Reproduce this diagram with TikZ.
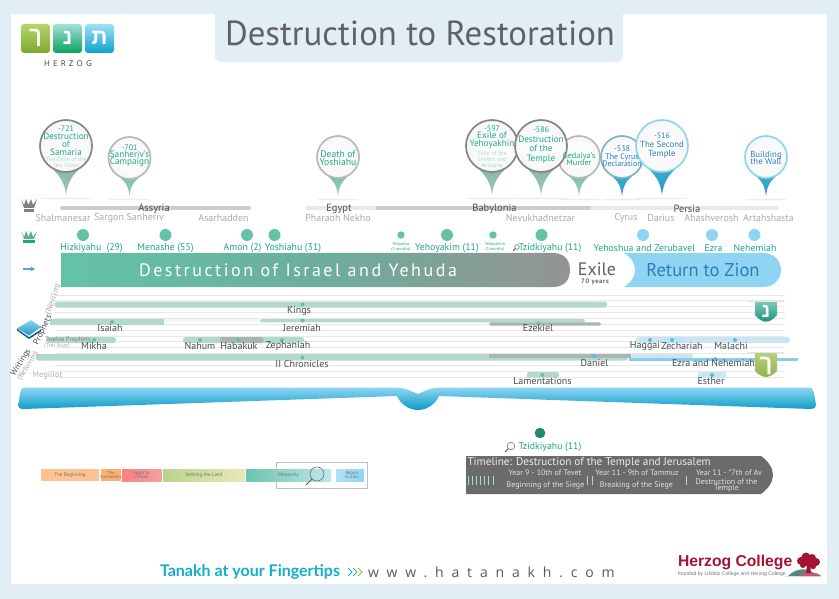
\documentclass[tikz,border=0pt]{standalone}
\usepackage{fontspec}
\setmainfont{PT Sans}
\newfontfamily\hebfont[Script=Hebrew]{Liberation Sans}
\newfontfamily\spacedfont[LetterSpace=14]{PT Sans}
\newfontfamily\yearsfont[LetterSpace=10]{PT Sans}
\newfontfamily\wideurl[LetterSpace=56]{Open Sans}
\newfontfamily\logoword[LetterSpace=40]{Open Sans}
\newfontfamily\sloganfont{Lato}
\newfontfamily\collegefont{Liberation Sans}
\newcommand{\fsz}[1]{\fontsize{#1}{#1}\selectfont}
\usetikzlibrary{arrows.meta}
\definecolor{pagebg}{HTML}{E2EEF6}
\definecolor{teal}{HTML}{1FA58A}
\definecolor{tealpale}{HTML}{A5DFCD}
\definecolor{sea}{HTML}{64C2A8}
\definecolor{sky}{HTML}{8FD5F3}
\definecolor{inkblue}{HTML}{2B7FB8}
\definecolor{rulergray}{HTML}{A9ABAD}
\definecolor{booklabel}{HTML}{4A4D4F}
\definecolor{barsea}{HTML}{B2D9CB}
\definecolor{bargray}{HTML}{A8B5B0}
\definecolor{barsky}{HTML}{CDE5F3}
\definecolor{dotsky}{HTML}{5DB8E5}
\definecolor{crimson}{HTML}{A2142F}
\definecolor{tailsea}{HTML}{78BDA5}
\definecolor{tailseafade}{HTML}{9AD0BC}
\definecolor{tailsage}{HTML}{85B5A3}
\definecolor{tailsagefade}{HTML}{A0C8B8}
\definecolor{tailblue}{HTML}{4AAACD}
\definecolor{tailbluedeep}{HTML}{1F9AC6}
\definecolor{oceanedge}{HTML}{0A9BC4}
\definecolor{tabolive}{HTML}{8FB550}
\definecolor{tabolivetop}{HTML}{B8D078}
\definecolor{slogan}{HTML}{12AFC9}
\tikzset{
  x=1pt,y=-1pt,
  txt/.style={inner sep=0pt,outer sep=0pt,align=center},
  rulername/.style={txt,text=rulergray,font=\fsz{10}},
  empire/.style={txt,text=booklabel,font=\fsz{10.5}},
  kingname/.style={txt,text=teal,font=\fsz{9.8}},
  tinyking/.style={txt,text=teal,font=\fsz{4.2}},
  bookname/.style={txt,text=booklabel,font=\fsz{10}},
  pintext/.style={txt,text=teal,font=\fsz{9.2}},
  pinblue/.style={txt,text=inkblue,font=\fsz{8.8}},
  pinnote/.style={txt,text=tealpale,font=\fsz{6}},
  graylabel/.style={txt,text=rulergray,font=\fsz{6.5}},
  sidelabel/.style={txt,text=booklabel,font=\fsz{8.5}},
  minitext/.style={txt,text=booklabel!80,font=\fsz{5}},
  sieget/.style={txt,text=white!88!black,font=\fsz{8}},
  timebar/.style={line width=4pt,line cap=round},
}
% map pin: name, x, circle y, radius, tip y, ring colour, tail colour, tail fade colour
\newcommand{\mappin}[8]{%
  \fill[black!22,opacity=.3] (#2,#5+3.5) ellipse[x radius=#4*1.0,y radius=1];
  \shade[top color=#7,bottom color=#8]
    (#2-0.68*#4,#3+0.72*#4) .. controls (#2-0.2*#4,#3+1.15*#4) and (#2-1.5,#5-12) .. (#2,#5)
    .. controls (#2+1.5,#5-12) and (#2+0.2*#4,#3+1.15*#4) .. (#2+0.68*#4,#3+0.72*#4) -- cycle;
  \shadedraw[inner color=white,outer color=white!97!black,draw=#6,line width=1.7pt]
    (#2,#3) circle[radius=#4];
  \coordinate (#1) at (#2,#3);
}
% magnifying glass
\newcommand{\lens}[3]{%
  \draw[black!55,line width=.6pt] (#1,#2) circle[radius=#3];
  \draw[black!65,line width=.8pt] (#1-0.7*#3,#2+0.7*#3) -- (#1-1.6*#3,#2+1.6*#3);
}
\begin{document}
\begin{tikzpicture}
\useasboundingbox (0,0) rectangle (839,599);
% page
\fill[pagebg] (0,0) rectangle (839,599);
\fill[white] (11,14) rectangle (827,584);
% title plate
\fill[pagebg] (215,14) -- (623,14) -- (623,56) arc[start angle=0,end angle=90,radius=6] -- (221,62) arc[start angle=90,end angle=180,radius=6] -- cycle;
\node[txt,text=black!62,font=\fsz{34.8}] (title) at (420,33) {Destruction to Restoration};

% logo tiles
\foreach \nm/\xa/\ca/\cb/\gl in {ltr/21/B5D668/7DA82F/ך, mid/53/A4E0D8/07A35F/נ, rtl/85/A0DFF2/0BA2D2/ת}{
  \definecolor{ta}{HTML}{\ca}\definecolor{tb}{HTML}{\cb}
  \shade[top color=ta,bottom color=tb,rounded corners=3pt] (\xa,24) rectangle (\xa+29,53);
  \node[txt,text=white,font=\hebfont\bfseries\fsz{22}] (logo\nm) at (\xa+14.5,38) {\gl};
}
\node[txt,text=black!75,font=\logoword\fsz{8}] (logoword) at (68,63.5) {HERZOG};

% period bars
\draw[timebar,black!20] (62,208) -- (249,208);
\draw[timebar,black!20] (375,208) -- (590,208);
\draw[timebar,black!9] (307,208) -- (375,208);
\draw[timebar,black!9] (592,208) -- (777,208);

% crowns and arrow
\fill[black!50] (21,199) -- (24,205) -- (26,199) -- (28.5,205) -- (31,199) -- (33,205) -- (37,199) -- (34,208) -- (24,208) -- cycle;
\fill[black!50] (24,209) rectangle (34,212);
\fill[sea!90!black] (21,231) -- (24,237) -- (26,231) -- (28.5,237) -- (31,231) -- (33,237) -- (37,231) -- (34,239) -- (24,239) -- cycle;
\fill[teal] (23,240) rectangle (35,243);
\coordinate (arrowA) at (23,269);
\coordinate (arrowB) at (35,269);
\draw[-{Stealth[length=4.5pt,width=5pt]},line width=1.3pt,color=dotsky!90!black] (arrowA) -- (arrowB);

% map pins, back to front
\mappin{pinA}{66}{146}{26}{195}{black!48}{tailsage}{tailsagefade}
\mappin{pinB}{129.5}{158}{21}{196}{black!28}{tailsea}{tailseafade}
\mappin{pinC}{338}{157}{21}{196}{black!28}{tailsea}{tailseafade}
\mappin{pinG}{579}{157}{21}{196}{black!28}{tailsea}{tailseafade}
\mappin{pinE}{492}{146}{26}{195}{black!48}{tailsage}{tailsagefade}
\mappin{pinF}{541}{146}{26}{195}{black!48}{tailsage}{tailsagefade}
\mappin{pinH}{622}{157}{21}{196}{sky!85!black}{tailblue}{tailbluedeep}
\mappin{pinI}{662}{146}{26}{195}{sky}{tailblue}{tailbluedeep}
\mappin{pinJ}{766}{157}{21}{196}{sky}{tailblue}{tailbluedeep}

\node[pintext] (tA) at (66,140.5) {\fsz{8}-721\\[-1pt]Destruction\\[-1.5pt]of\\[-1.5pt]Samaria};
\node[pinnote] (nA) at (66,162.5) {The Exile of the\\[.5pt]Ten Tribes};
\node[pintext] (tB) at (129.5,155.5) {\fsz{8}-701\\[-2pt]Sanheriv's\\[-2pt]Campaign};
\node[pintext,font=\fsz{9.6}] (tC) at (338,158) {Death of\\[-1.5pt]Yoshiahu};
\node[pintext] (tE) at (492,137) {\fsz{8}-597\\[-1.5pt]Exile of\\[-1.5pt]Yehoyakhin};
\node[pinnote] (nE) at (492,159.5) {Exile of the\\[.4pt]Smiths and\\[.4pt]Artisans};
\node[pintext] (tF) at (541,145) {\fsz{8}-586\\[.5pt]Destruction\\[.5pt]of the\\[.5pt]Temple};
\node[pintext,font=\fsz{8.2}] (tG) at (579,159.5) {Gedalya's\\[-1pt]Murder};
\node[pinblue,font=\fsz{8}] (tH) at (622,156.5) {\fsz{8}-538\\[-.5pt]The Cyrus\\[-.5pt]Declaration};
\node[pinblue] (tI) at (662,145.5) {\fsz{8}-516\\[.3pt]The Second\\[.3pt]Temple};
\node[pinblue] (tJ) at (766,158) {Building\\[-1pt]the Wall};

% empire names and rulers
\node[empire] (assyria) at (154,208.5) {Assyria};
\node[empire] (egypt) at (339,208.5) {Egypt};
\node[empire] (babylonia) at (494.5,208.5) {Babylonia};
\node[empire] (persia) at (687,208.5) {Persia};
\node[rulername] (r1) at (63,218) {Shalmanesar};
\node[rulername] (r2) at (129,218) {Sargon Sanheriv};
\node[rulername] (r3) at (223.5,218) {Asarhadden};
\node[rulername] (r4) at (338,218) {Pharaoh Nekho};
\node[rulername] (r5) at (540.5,218) {Nevukhadnetzar};
\node[rulername] (r6) at (626,218) {Cyrus};
\node[rulername] (r7) at (661,218) {Darius};
\node[rulername] (r8) at (711.5,218) {Ahashverosh};
\node[rulername] (r9) at (768.5,218) {Artahshasta};

% kings and leaders
\foreach \nm/\xa/\rr/\cc in {d1/83/6/sea,d2/165.5/6/sea,d3/247/6/sea,d4/274.5/6/sea,d5/401/3.7/sea,d6/447/6/sea,d7/493/3.7/sea,d8/541.5/6/sea,d9/643/6/sky,d10/712/6/sky,d11/754.5/6/sky}{
  \fill[\cc] (\xa,235) circle[radius=\rr];
  \coordinate (\nm) at (\xa,235);
}
\node[kingname] (k1) at (91.5,248) {Hizkiyahu~ (29)};
\node[kingname] (k2) at (165.5,248) {Menashe (55)};
\node[kingname] (k3) at (242.5,248) {Amon (2)};
\node[kingname] (k4) at (293,248) {Yoshiahu (31)};
\node[tinyking] (k5) at (401,247) {Yehoahaz\\(3 months)};
\node[kingname] (k6) at (447,248) {Yehoyakim (11)};
\node[tinyking] (k7) at (495,247) {Yehoyakhin\\(3 months)};
\node[kingname] (k8) at (550,248) {Tzidkiyahu (11)};
\lens{517}{247}{2.3}
\node[kingname] (k9) at (644.5,248) {Yehoshua and Zerubavel};
\node[kingname] (k10) at (713.5,248) {Ezra};
\node[kingname] (k11) at (755,248) {Nehemiah};

% main era band
\shade[left color=sea,right color=black!42,middle color=sea!70!gray,shading angle=90]
  (61,253) -- (553,253) .. controls (566,253) and (570,262) .. (570,270) .. controls (570,278) and (566,287) .. (553,287) -- (61,287) -- cycle;
\node[txt,text=white,font=\spacedfont\fsz{18}] (era1) at (298,270) {Destruction of Israel and Yehuda};
\node[txt,text=black!62,font=\fsz{18}] (era2) at (597,269) {Exile};
\node[txt,text=black!62,font=\yearsfont\bfseries\fsz{6.5}] (era2b) at (595,281.5) {70 years};
\fill[sky] (624,253) -- (763,253) .. controls (775,253) and (781,262) .. (781,270) .. controls (781,278) and (775,287) .. (763,287) -- (624,287) .. controls (632,282) and (635,276) .. (635,270) .. controls (635,264) and (632,258) .. (624,253) -- cycle;
\node[txt,text=inkblue,font=\fsz{18.5}] (era3) at (703,270) {Return to Zion};

% ruled lines of the book shelf
\foreach \i in {0,...,14}{
  \draw[black!9,line width=.8pt] (55,295+\i*5.85) -- (785,295+\i*5.85);
}

% book spans
\fill[barsea,rounded corners=2pt] (55,301.5) rectangle (607,307.5);
\fill[barsea] (50,319.3) rectangle (164,325.3);
\fill[black!4] (164,319.2) rectangle (260,322.4);
\fill[barsea,rounded corners=1.5pt] (260,319.2) rectangle (585,322.4);
\fill[bargray,rounded corners=1.5pt] (489,322.3) rectangle (601,325.7);
\fill[barsea,rounded corners=2.5pt] (46,337) rectangle (116,343);
\fill[barsea,rounded corners=2.5pt] (183,337) rectangle (304,343);
\fill[bargray,rounded corners=2.5pt] (220,337) rectangle (263,343);
\fill[barsky,rounded corners=2.5pt] (636,337) rectangle (790,343);
\fill[sky!60,rounded corners=2.5pt] (660,337) rectangle (686,343);
\fill[barsea,rounded corners=2pt] (36,354) rectangle (627,360.7);
\fill[bargray] (489,354) rectangle (631,358);
\fill[barsky,rounded corners=1.5pt] (631,354) rectangle (693,358);
\fill[sky!75!dotsky] (629,358) rectangle (798,361);
\fill[barsea,rounded corners=2pt] (527,372) rectangle (559,377.6);
\fill[barsky,rounded corners=2pt] (698,372) rectangle (726,378);

\foreach \xa/\ya/\cc in {302.5/304.5/sea, 112/322/sea, 302.5/320.5/sea, 538.5/323.5/sea, 94/340/sea, 200/340/sea, 238/340/sea, 282/340/sea, 302.5/357.5/sea, 650/340/dotsky, 672/340/dotsky, 735/340/dotsky, 594/356/dotsky, 715/359/dotsky, 542.5/375/sea, 712/375/dotsky}{
  \fill[\cc] (\xa,\ya) circle[radius=2];
}

\node[bookname] (b1) at (299,311) {Kings};
\node[bookname] (b2) at (110,328) {Isaiah};
\node[bookname] (b3) at (302,328) {Jeremiah};
\node[bookname] (b4) at (538,328.5) {Ezekiel};
\node[bookname] (b5) at (94,346) {Mikha};
\node[bookname] (b6) at (200,346) {Nahum};
\node[bookname] (b7) at (239,346) {Habakuk};
\node[bookname] (b8) at (288,346) {Zephaniah};
\node[bookname] (b9) at (645,346) {Haggai};
\node[bookname] (b10) at (682,346) {Zechariah};
\node[bookname] (b11) at (731,346) {Malachi};
\node[bookname] (b12) at (302,363.5) {II Chronicles};
\node[bookname] (b13) at (594.5,363.5) {Daniel};
\node[bookname] (b14) at (713.5,363.5) {Ezra and Nehemiah};
\node[bookname] (b15) at (542.5,381) {Lamentations};
\node[bookname] (b16) at (711,381) {Esther};

\node[graylabel,text=black!50] (g1) at (68,339.5) {Twelve Prophets};
\node[graylabel,font=\fsz{6}] (g2) at (57,346.5) {(Trei Asar)};
\node[graylabel,font=\fsz{8.5},text=black!30] (g3) at (47.5,375) {Megillot};

% book icon
\fill[inkblue!70!black] (17,330.5) -- (29,339) -- (41,331.5) -- (41,329.5) -- (29,337) -- (17,328.5) -- cycle;
\fill[white!88!sky] (18,329.5) -- (29,336.8) -- (40.5,329.5) -- (39,328) -- (29,334.5) -- cycle;
\shade[top color=sky,bottom color=tailbluedeep] (17,328.5) -- (31,320) -- (41,327) -- (29,335.5) -- cycle;

% part labels along the margin
\node[sidelabel,rotate=65] (s1) at (43,330) {Prophets};
\node[sidelabel,rotate=70,text=black!35] (s2) at (53.5,299.5) {(Nevi'im)};
\node[sidelabel,rotate=57] (s3) at (21,362.5) {Writings};
\node[sidelabel,rotate=57,text=black!35,font=\fsz{8}] (s4) at (28,366) {(Ketuvim)};

% section tabs
\fill[black!10] (748,301) rectangle (784,302);
\shade[top color=teal!60,bottom color=teal!90!black] (755,302) -- (777,302) -- (777,315) .. controls (773,320) and (769,321.7) .. (766,321.7) .. controls (763,321.7) and (759,320) .. (755,315) -- cycle;
\node[txt,text=white,font=\hebfont\bfseries\fsz{20}] (tabN) at (766,311) {נ};
\fill[black!10] (748,352) rectangle (784,353);
\shade[top color=tabolivetop,bottom color=tabolive] (755,353) -- (777,353) -- (777,371) .. controls (773,375) and (769,377) .. (766,377) .. controls (763,377) and (759,375) .. (755,371) -- cycle;
\node[txt,text=white,font=\hebfont\bfseries\fsz{22}] (tabK) at (766,366) {ך};

% open book edge
\shade[top color=sky,bottom color=oceanedge] (25,387.5) -- (395,387.5)
  .. controls (405,387.5) and (413,392) .. (418,394)
  .. controls (423,392) and (430,387.5) .. (440,387.5)
  -- (808,387.5) .. controls (812,387.5) and (813,389) .. (814,393) -- (816,405) .. controls (816,408) and (814,409) .. (811,409)
  -- (439,396) .. controls (436,403) and (428,410) .. (418,410) .. controls (408,410) and (400,403) .. (397,396)
  -- (24,409) .. controls (20,409) and (18,408) .. (18.5,404) -- (20,394) .. controls (21,389) and (22,387.5) .. (25,387.5) -- cycle;

% selected reign
\fill[teal!85!black] (540,433) circle[radius=5.3];
\coordinate (selected) at (540,433);
\lens{511}{446}{3.8}
\node[kingname] (selname) at (550,447) {Tzidkiyahu (11)};

% siege timeline plate
\fill[black!58] (466,456) -- (761,456) .. controls (768,461) and (773,468) .. (773,475) .. controls (773,482) and (768,489) .. (761,494) -- (466,494) -- cycle;
\node[txt,anchor=west,text=white!92!black,font=\fsz{11.2}] (plate) at (467.5,462.5) {Timeline: Destruction of the Temple and Jerusalem};
\foreach \xa in {468.5,472.5,476.5,480.5,484.5,488.5,493,587,592.5,686.5}{
  \draw[tealpale,line width=.6pt] (\xa,476) -- (\xa,485);
}
\node[sieget] (s1a) at (545,473) {Year 9 - 10th of Tevet};
\node[sieget] (s1b) at (545.5,485) {Beginning of the Siege};
\node[sieget] (s2a) at (637,473) {Year 11 - 9th of Tammuz};
\node[sieget] (s2b) at (636.5,485) {Breaking of the Siege};
\node[sieget] (s3a) at (729,473) {Year 11 - *7th of Av};
\node[sieget] (s3b) at (726.5,485) {Destruction of the\\[-2pt]Temple};

% overview strip
\fill[orange!40!white!95!red] (41,469) rectangle (99.3,481);
\fill[orange!55!white!95!red] (100.7,469) rectangle (121,481);
\shade[left color=red!50!white,right color=red!35!white!90!gray] (122,469) rectangle (161.5,481);
\shade[left color=green!25!olive!45!white,right color=olive!18!white] (163,469) rectangle (245,481);
\shade[left color=sea!95,right color=sea!35!sky!50!white] (246,469) rectangle (331,481);
\shade[left color=sky!70,right color=sky] (336,469) rectangle (364,481);
\node[minitext] (m1) at (70,475) {The Beginning};
\node[minitext,font=\fsz{4.4}] (m2) at (111,475) {The\\Forefathers};
\node[minitext,font=\fsz{4.6}] (m3) at (141.5,475) {Egypt to\\Canaan};
\node[minitext] (m4) at (204,475) {Settling the Land};
\node[minitext] (m5) at (288.5,475) {Monarchy};
\node[minitext,font=\fsz{4.6}] (m6) at (352,475) {Return\\to Zion};
\draw[black!25,line width=.9pt] (276,462.5) rectangle (367,488);
\lens{317}{474}{7}

% footer
\node[txt,anchor=west,text=slogan,font=\sloganfont\bfseries\fsz{16}] (slogan) at (160,572) {Tanakh at your Fingertips};
\coordinate (chevrons) at (348,572);
\foreach \dx/\cc in {0/slogan,5/slogan!60!tabolive,10/tabolive}{
  \draw[\cc,line width=.9pt] ([xshift=\dx pt]chevrons) ++(0,-4) -- ++(4,4) -- ++(-4,4);
}
\node[txt,anchor=west,text=black!65,font=\wideurl\fsz{14}] (url) at (368,572) {www.hatanakh.com};
\node[txt,anchor=west,text=crimson,font=\collegefont\bfseries\fsz{15.7}] (college) at (678,562) {Herzog College};
\node[txt,anchor=west,text=black!55,font=\collegefont\fsz{5.1}] (founded) at (678,574.5) {founded by Lifshitz College and Herzog College};

% college tree
\fill[teal!60!black!75] (788,576) .. controls (796,568) and (806,568) .. (812,572) -- (808,576) -- cycle;
\fill[black!12] (785,576) -- (820,576) -- (821,577) -- (785,577) -- cycle;
\fill[crimson!70!white] (798,576) .. controls (804,571) and (816,571) .. (821,576) -- cycle;
\fill[crimson] (807,564) -- (810,564) -- (811,573) -- (806,573) -- cycle;
\foreach \xa/\ya/\rr in {801/561/4,806/557/4.5,812/558/4,816/562/4,808/562/4.5,803/565/3,813/566/3.2}{
  \fill[crimson] (\xa,\ya) circle[radius=\rr];
}
\end{tikzpicture}
\end{document}
